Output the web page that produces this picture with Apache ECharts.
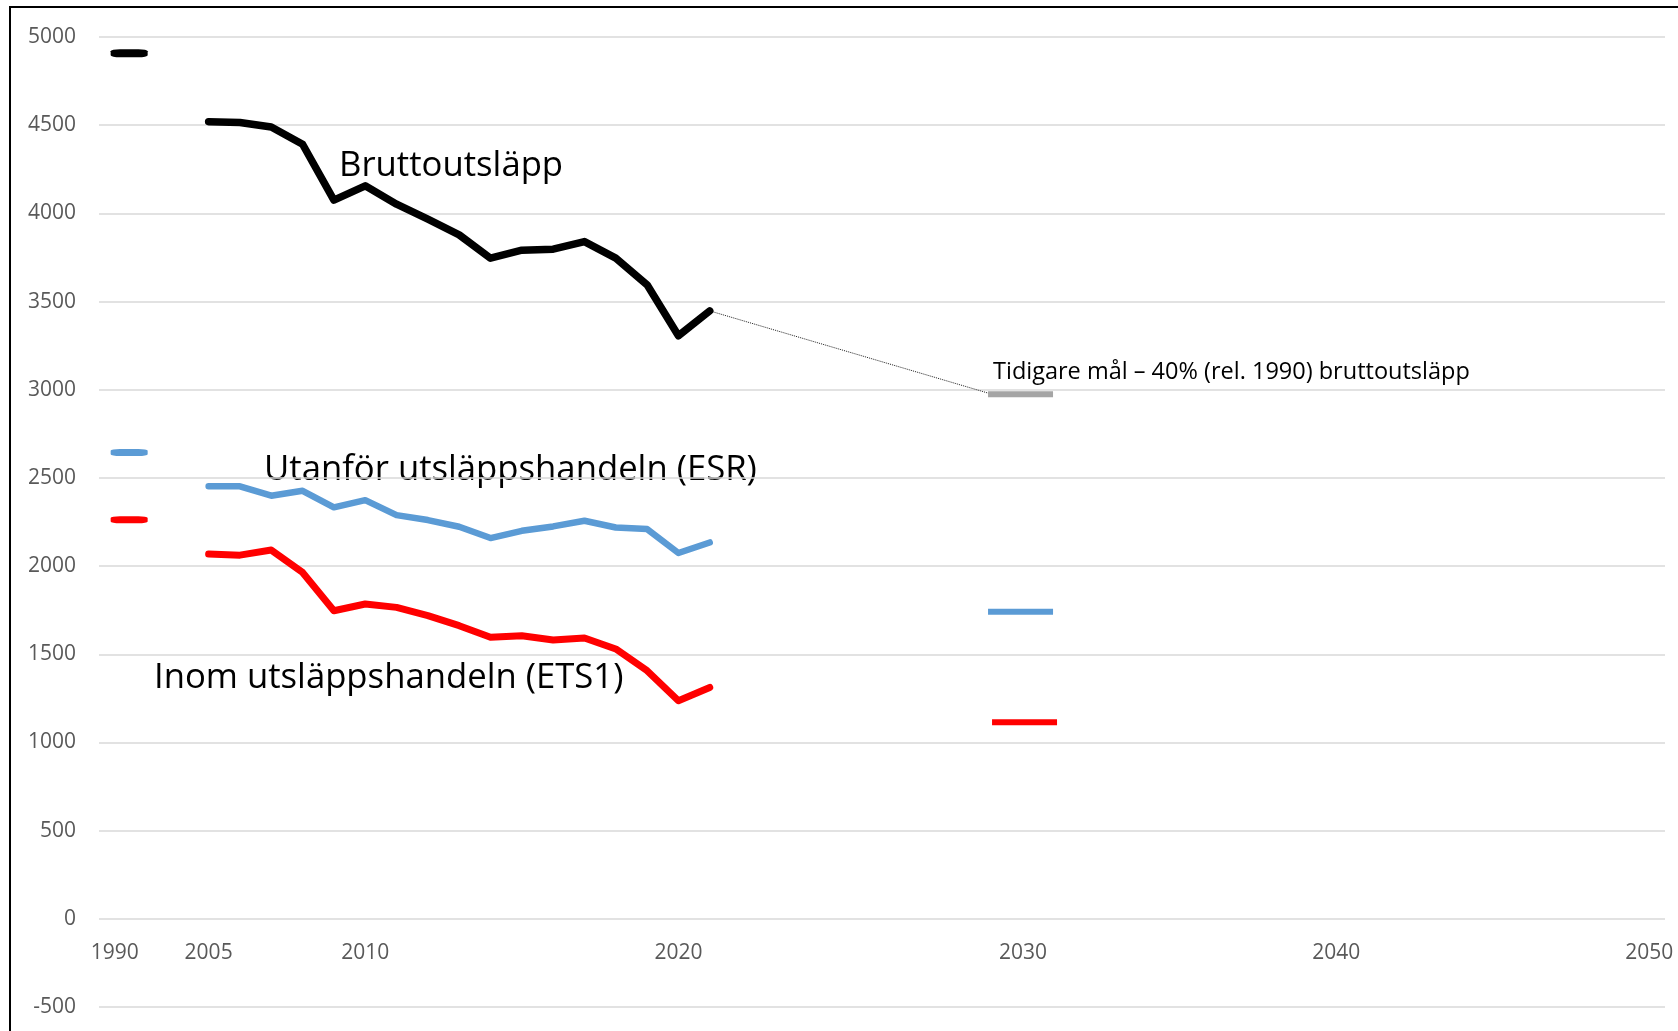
<!DOCTYPE html>
<html>
<head>
<meta charset="utf-8">
<script src="https://cdn.jsdelivr.net/npm/echarts@6/dist/echarts.min.js"></script>
<style>
  html, body { margin: 0; padding: 0; background: #fff; }
  #chart { width: 1678px; height: 1031px; }
</style>
</head>
<body>
<div id="chart"></div>
<script>
// x-axis slots (Excel category axis, blank slots have no label)
var categories = ['1990', '', '', '2005', '', '', '', '', '2010',
    '', '', '', '', '', '', '', '', '', '2020',
    '', '', '', '', '', '', '', '', '', '', '2030',
    '', '', '', '', '', '', '', '', '', '2040',
    '', '', '', '', '', '', '', '', '', '2050'];

var yTicks = [-500, 0, 500, 1000, 1500, 2000, 2500, 3000, 3500, 4000, 4500, 5000];

// 2005..2021
var histStart = 3;
var brutto = [4520, 4515, 4490, 4392, 4075, 4156, 4052, 3967, 3878, 3746, 3791, 3797, 3840, 3746, 3595, 3306, 3447];
var esr = [2452, 2452, 2399, 2427, 2333, 2374, 2289, 2261, 2223, 2159, 2200, 2225, 2257, 2219, 2210, 2074, 2134];
var ets = [2068, 2062, 2091, 1964, 1747, 1785, 1766, 1719, 1662, 1596, 1605, 1581, 1592, 1530, 1407, 1237, 1312];

// 1990 levels
var brutto1990 = 4908;
var esr1990 = 2644;
var ets1990 = 2263;

// 2030 goals
var target2030Slot = 29;
var prevGoal2030 = 2975;
var esr2030 = 1741;
var ets2030 = 1114;

function slots(values, start) {
    var out = categories.map(function () { return null; });
    values.forEach(function (v, i) { out[start + i] = v; });
    return out;
}
function single(slot, v) {
    return [[slot, v]];
}

var lastIdx = histStart + brutto.length - 1;
var linkData = categories.map(function () { return null; });
linkData[lastIdx] = brutto[brutto.length - 1];
linkData[target2030Slot - 1] = prevGoal2030;

var gridTop = 37, gridBottom = 24, height = 1031;
var yMin = yTicks[0], yMax = yTicks[yTicks.length - 1];
// lift the category axis up to the 0 line, like Excel does
var zeroLift = (height - gridTop - gridBottom) * (0 - yMin) / (yMax - yMin);

var chart = echarts.init(document.getElementById('chart'));
var font = '"Open Sans", "Noto Sans", sans-serif';

function lineSeries(name, values, color, width) {
    return {
        name: name,
        type: 'line',
        data: slots(values, histStart),
        symbol: 'none',
        lineStyle: { color: color, width: width, cap: 'round', join: 'round' },
        z: 3
    };
}
function dash(name, slot, value, color, size, offset, shape) {
    return {
        name: name,
        type: 'scatter',
        data: single(slot, value),
        symbol: shape,
        symbolSize: size,
        symbolOffset: offset,
        itemStyle: { color: color, opacity: 1 },
        z: 4
    };
}

chart.setOption({
    animation: false,
    backgroundColor: '#fff',
    grid: { left: 99, right: 13, top: gridTop, bottom: gridBottom, containLabel: false, outerBoundsMode: 'none' },
    xAxis: {
        type: 'category',
        data: categories,
        boundaryGap: true,
        position: 'bottom',
        offset: -zeroLift,
        axisLine: { show: false, onZero: false },
        axisTick: { show: false },
        splitLine: { show: false },
        axisLabel: {
            interval: 0,
            margin: 24,
            color: '#595959',
            fontSize: 21,
            fontFamily: font
        }
    },
    yAxis: {
        type: 'value',
        min: yMin,
        max: yMax,
        interval: 500,
        axisLine: { show: false },
        axisTick: { show: false },
        splitLine: { lineStyle: { color: '#D9D9D9', width: 1.5 } },
        axisLabel: {
            margin: 23,
            color: '#595959',
            fontSize: 21,
            fontFamily: font,
            formatter: function (v) { return String(v); }
        }
    },
    series: [
        {
            name: 'link',
            type: 'line',
            data: linkData,
            connectNulls: true,
            symbol: 'none',
            lineStyle: { color: '#222', width: 1, type: 'dotted' },
            z: 2
        },
        lineSeries('Utanför utsläppshandeln (ESR)', esr, '#5B9BD5', 6.5),
        lineSeries('Inom utsläppshandeln (ETS1)', ets, '#FF0000', 7),
        lineSeries('Bruttoutsläpp', brutto, '#000000', 7.5),
        dash('b1990', 0, brutto1990, '#000000', [37, 8], [14.5, 0], 'roundRect'),
        dash('e1990', 0, esr1990, '#5B9BD5', [37, 7], [14.5, 0], 'roundRect'),
        dash('t1990', 0, ets1990, '#FF0000', [37, 7], [14.5, 0], 'roundRect'),
        dash('goal', target2030Slot, prevGoal2030, '#A5A5A5', [65, 6], [-2.4, 0], 'rect'),
        dash('esrGoal', target2030Slot, esr2030, '#5B9BD5', [65, 6], [-2.4, 0], 'rect'),
        dash('etsGoal', target2030Slot, ets2030, '#FF0000', [65, 6], [1.6, 0], 'rect')
    ],
    graphic: [
        {
            type: 'rect',
            shape: { x: 10, y: 7, width: 2000, height: 2000 },
            style: { fill: 'none', stroke: '#000', lineWidth: 2 },
            silent: true
        },
        {
            type: 'text', x: 339, y: 166,
            style: { text: 'Bruttoutsläpp', font: '34.7px ' + font, fill: '#000', align: 'left', verticalAlign: 'middle' }
        },
        {
            type: 'text', x: 264, y: 470,
            style: { text: 'Utanför utsläppshandeln (ESR)', font: '34.7px ' + font, fill: '#000', align: 'left', verticalAlign: 'middle' }
        },
        {
            type: 'text', x: 154, y: 678,
            style: { text: 'Inom utsläppshandeln (ETS1)', font: '34.7px ' + font, fill: '#000', align: 'left', verticalAlign: 'middle' }
        },
        {
            type: 'text', x: 993, y: 372,
            style: { text: 'Tidigare mål – 40% (rel. 1990) bruttoutsläpp', font: '23.5px ' + font, fill: '#000', align: 'left', verticalAlign: 'middle' }
        }
    ]
});
</script>
</body>
</html>
